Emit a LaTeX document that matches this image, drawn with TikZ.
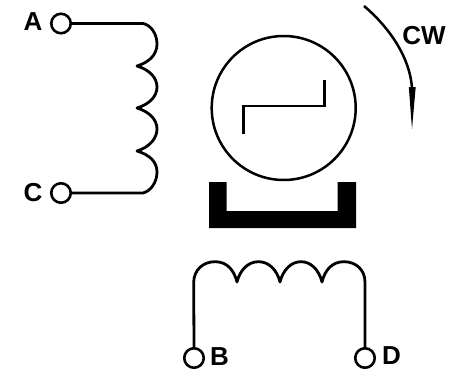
\documentclass[tikz,border=0pt]{standalone}
\usepackage{fontspec}
\setmainfont{Liberation Sans}
\tikzset{
  terminal/.style={circle,draw=black,fill=white,line width=2.6pt,minimum size=19.5pt,inner sep=0pt},
  wire/.style={draw=black,line width=2.8pt,line join=round},
  label/.style={font=\fontsize{26}{26}\selectfont\bfseries,text=black,inner sep=0pt},
  thinline/.style={draw=black,line width=2.5pt}
}
\begin{document}
\begin{tikzpicture}[x=1pt,y=-1pt]
\useasboundingbox (0,0) rectangle (459,372);
% terminals
\node[terminal] (A) at (61,23.5) {};
\node[terminal] (C) at (61,193) {};
\node[terminal] (B) at (194,358) {};
\node[terminal] (D) at (365,358) {};
% labels
\node[label] (la) at (33,22) {A};
\node[label] (lc) at (33,193) {C};
\node[label] (lb) at (219.5,357) {B};
\node[label] (ld) at (391.5,356) {D};
\node[label] (lcw) at (424,36) {CW};
% coil A-C
\draw[wire] (A.east) -- (143,23.5)
  .. controls (151,25) and (157,34) .. (157,44)
  .. controls (157,54) and (150,62) .. (137,66)
  .. controls (150,70) and (157,78) .. (157,87)
  .. controls (157,96) and (150,104) .. (137,108)
  .. controls (150,112) and (157,120) .. (157,129)
  .. controls (157,138) and (150,147) .. (137,151)
  .. controls (150,155) and (157,162) .. (157,172)
  .. controls (157,182) and (151,191) .. (143,193)
  -- (C.east);
% coil B-D
\draw[wire] (B.north) -- (193.7,282)
  .. controls (194,270) and (203,261.7) .. (215,261.7)
  .. controls (227,261.7) and (234,270) .. (237,282)
  .. controls (240,270) and (248,261.7) .. (258.5,261.7)
  .. controls (269,261.7) and (277,270) .. (280,282)
  .. controls (283,270) and (291,261.7) .. (301,261.7)
  .. controls (311,261.7) and (319,270) .. (322,282)
  .. controls (325,270) and (332,261.7) .. (344,261.7)
  .. controls (356,261.7) and (365,270) .. (365,282)
  -- (D.north);
% rotor
\node[circle,draw=black,line width=2.5pt,minimum size=144pt,inner sep=0pt] (rotor) at (283.7,108) {};
\draw[thinline,line join=miter] (243.5,133.5) -- (243.5,106) -- (324.5,106) -- (324.5,79.5);
% stator
\fill[black] (209,182) -- (226.7,182) -- (226.7,211) -- (337.7,211) -- (337.7,182) -- (356,182) -- (356,228) -- (209,228) -- cycle;
% direction arrow
\coordinate (cwstart) at (364,6);
\coordinate (cwend) at (412,88);
\draw[thinline] (cwstart) .. controls (390,28) and (410,58) .. (cwend);
\fill[black] (408.8,87) -- (415.7,87) -- (412,129) -- cycle;
\end{tikzpicture}
\end{document}
